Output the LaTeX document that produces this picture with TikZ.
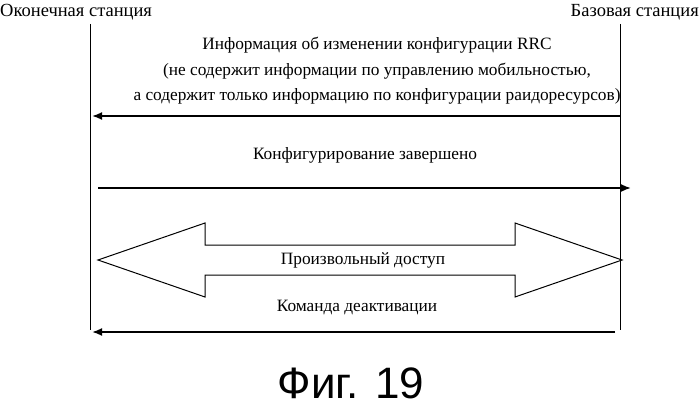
\documentclass[tikz,border=0pt]{standalone}
\usepackage{fontspec}
\setmainfont{Liberation Serif}
\newfontfamily\figfont{Liberation Sans}
\begin{document}
\begin{tikzpicture}[x=1pt,y=-1pt,
  lbl/.style={font=\fontsize{17.3}{25.5}\selectfont, inner sep=0pt},
  msg/.style={line width=1.8pt,-{Latex[length=10pt,width=8pt]}},
  life/.style={line width=1pt}]
\usetikzlibrary{arrows.meta}
\useasboundingbox (0,0) rectangle (699,412);
\node[lbl,anchor=west,font=\fontsize{18.5}{22}\selectfont] (ue) at (0,12) {Оконечная станция};
\node[lbl,anchor=east,font=\fontsize{18.5}{22}\selectfont] (bs) at (699,12) {Базовая станция};
\coordinate (ut) at (90,24); \coordinate (ub) at (90,330);
\coordinate (bt) at (620,24); \coordinate (bb) at (620,330);
\draw[life] (ut) -- (ub); \draw[life] (bt) -- (bb);
\node[lbl,align=center] (t1) at (377,71) {Информация об изменении конфигурации RRC\\(не содержит информации по управлению мобильностью,\\а содержит только информацию по конфигурации раидоресурсов)};
\coordinate (a1s) at (620,116); \coordinate (a1e) at (92,116);
\draw[msg] (a1s) -- (a1e);
\node[lbl] (t2) at (365,155) {Конфигурирование завершено};
\coordinate (a2s) at (98,188); \coordinate (a2e) at (631,188);
\draw[msg] (a2s) -- (a2e);
\draw[line width=1pt] (98,260) -- (205,223) -- (205,245) -- (515,245) -- (515,223) -- (622,260) -- (515,297) -- (515,275) -- (205,275) -- (205,297) -- cycle;
\node[lbl] (t3) at (363,260) {Произвольный доступ};
\node[lbl] (t4) at (357,308) {Команда деактивации};
\coordinate (a4s) at (615,332); \coordinate (a4e) at (92,332);
\draw[msg] (a4s) -- (a4e);
\node[inner sep=0pt,font=\figfont\fontsize{44}{48}\selectfont] (fig) at (351,383) {Фиг. 19};
\end{tikzpicture}
\end{document}
